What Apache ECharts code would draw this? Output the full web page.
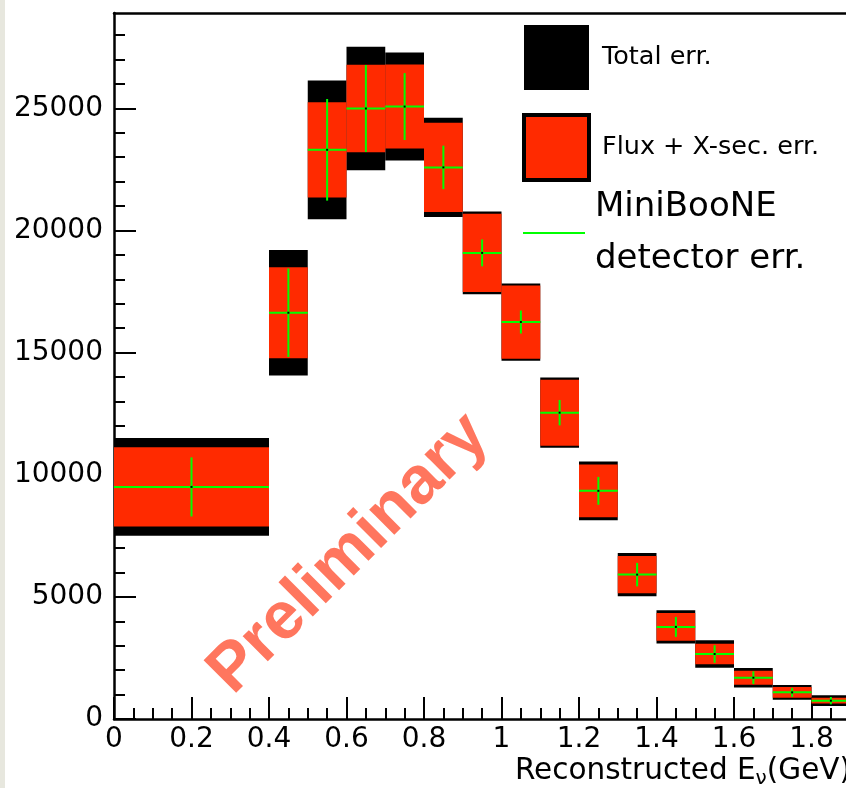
<!DOCTYPE html>
<html>
<head>
<meta charset="utf-8">
<script src="https://cdn.jsdelivr.net/npm/echarts@6/dist/echarts.min.js"></script>
<style>
html, body { margin: 0; padding: 0; background: #ffffff; }
#chart { width: 846px; height: 788px; }
</style>
</head>
<body>
<div id="chart"></div>
<script>
// ---- Data ----
const binEdges = [0, 0.4, 0.5, 0.6, 0.7, 0.8, 0.9, 1.0, 1.1, 1.2, 1.3, 1.4, 1.5, 1.6, 1.7, 1.8, 1.9];
const events   = [9500, 16630, 23300, 24990, 25070, 22580, 19080, 16250, 12540, 9340, 5910, 3770, 2660, 1690, 1090, 750];
const totalErr = [2000, 2570, 2840, 2530, 2210, 2030, 1690, 1580, 1440, 1200, 890, 680, 560, 400, 300, 220];
const fluxErr  = [1620, 1860, 1950, 1790, 1720, 1830, 1600, 1500, 1350, 1080, 760, 570, 420, 290, 225, 120];
const detErr   = [1210, 1810, 2080, 1780, 1370, 890, 550, 470, 520, 570, 480, 410, 360, 260, 185, 150];

const yMajorTicks = [0, 5000, 10000, 15000, 20000, 25000];
const yMinorTicks = [1000, 2000, 3000, 4000, 6000, 7000, 8000, 9000, 11000, 12000, 13000, 14000,
                     16000, 17000, 18000, 19000, 21000, 22000, 23000, 24000, 26000, 27000, 28000];

const seriesNames = ['Total err.', 'Flux + X-sec. err.', 'MiniBooNE detector err.'];

function rows(err) {
  return events.map((v, i) => [binEdges[i], binEdges[i + 1], v, err[i]]);
}

function boxRenderer(color) {
  return function (params, api) {
    const lo = api.value(0), hi = api.value(1), c = api.value(2), e = api.value(3);
    const p1 = api.coord([lo, c + e]);
    const p2 = api.coord([hi, c - e]);
    return {
      type: 'rect',
      shape: { x: p1[0], y: p1[1], width: p2[0] - p1[0], height: p2[1] - p1[1] },
      style: { fill: color }
    };
  };
}

function crossRenderer(params, api) {
  const lo = api.value(0), hi = api.value(1), c = api.value(2), e = api.value(3);
  const mid = (lo + hi) / 2;
  const pl = api.coord([lo, c]);
  const pr = api.coord([hi, c]);
  const pt = api.coord([mid, c + e]);
  const pb = api.coord([mid, c - e]);
  return {
    type: 'group',
    children: [
      { type: 'line', shape: { x1: pl[0], y1: pl[1], x2: pr[0], y2: pr[1] }, style: { stroke: '#00ff00', lineWidth: 2 } },
      { type: 'line', shape: { x1: pt[0], y1: pt[1], x2: pb[0], y2: pb[1] }, style: { stroke: '#00ff00', lineWidth: 2 } },
      { type: 'rect', shape: { x: pt[0] - 1, y: pl[1] - 1, width: 2, height: 2 }, style: { fill: '#000000' } }
    ]
  };
}

const FONT = 'DejaVu Sans';
const fmt = function (v) { return String(v); };
const chart = echarts.init(document.getElementById('chart'), null, { renderer: 'canvas' });

chart.setOption({
  animation: false,
  backgroundColor: '#ffffff',
  textStyle: { fontFamily: FONT, color: '#000' },
  grid: { left: 114, top: 13, right: -43, bottom: 69, containLabel: false, outerBoundsMode: 'none' },
  xAxis: [
    {
      type: 'value', min: 0, max: 2, interval: 0.2, position: 'bottom',
      axisLine: { show: true, onZero: false, lineStyle: { color: '#000', width: 2.5 } },
      axisTick: { show: true, inside: true, length: 22, lineStyle: { color: '#000', width: 2 } },
      minorTick: { show: true, splitNumber: 4, length: 11, lineStyle: { color: '#000', width: 2 } },
      splitLine: { show: false }, minorSplitLine: { show: false },
      axisLabel: { show: true, margin: 7, fontFamily: FONT, fontSize: 28, color: '#000', formatter: fmt },
      name: 'Reconstructed E{sub|ν}(GeV)',
      nameLocation: 'end', nameGap: -38, nameMoveOverlap: false,
      nameTextStyle: {
        fontFamily: FONT, fontSize: 29.5, color: '#000', align: 'right', verticalAlign: 'top',
        padding: [34, 0, 0, 0],
        rich: { sub: { fontFamily: FONT, fontSize: 20, color: '#000', padding: [16, 0, 0, 0] } }
      }
    },
    {
      type: 'value', min: 0, max: 2, position: 'top',
      axisLine: { show: true, onZero: false, lineStyle: { color: '#000', width: 2.5 } },
      axisTick: { show: false }, axisLabel: { show: false }, splitLine: { show: false }
    }
  ],
  yAxis: [
    {
      type: 'value', min: 0, max: 28900, interval: 5000, position: 'left',
      axisLine: { show: true, onZero: false, lineStyle: { color: '#000', width: 2.5 } },
      axisTick: { show: true, inside: true, length: 22, customValues: yMajorTicks, lineStyle: { color: '#000', width: 2 } },
      axisLabel: { show: true, margin: 11, customValues: yMajorTicks, fontFamily: FONT, fontSize: 28, color: '#000', formatter: fmt },
      splitLine: { show: false }
    },
    {
      type: 'value', min: 0, max: 28900, position: 'left', offset: 0,
      axisLine: { show: false },
      axisTick: { show: true, inside: true, length: 11, customValues: yMinorTicks, lineStyle: { color: '#000', width: 2 } },
      axisLabel: { show: false }, splitLine: { show: false }
    }
  ],
  legend: [
    {
      left: 522, top: 25, orient: 'vertical', padding: 0, selectedMode: false,
      itemWidth: 65, itemHeight: 65, itemGap: 23,
      textStyle: { fontFamily: FONT, fontSize: 25.5, color: '#000', padding: [0, 0, 0, 8] },
      data: [
        { name: seriesNames[0], icon: 'rect', itemStyle: { color: '#000000', borderWidth: 0 } },
        { name: seriesNames[1], icon: 'rect', itemStyle: { color: '#ff2a00', borderColor: '#000000', borderWidth: 4 } }
      ]
    },
    {
      left: 523, top: 171, orient: 'vertical', padding: 0, selectedMode: false,
      itemWidth: 62, itemHeight: 2,
      formatter: function () { return 'MiniBooNE\ndetector err.'; },
      textStyle: { fontFamily: FONT, fontSize: 34, lineHeight: 52, color: '#000', padding: [20, 0, 0, 5] },
      data: [ { name: seriesNames[2], icon: 'rect', itemStyle: { color: '#00ff00', borderWidth: 0 } } ]
    }
  ],
  graphic: [
    { type: 'rect', left: 0, top: 0, shape: { width: 5, height: 788 }, style: { fill: '#e7e7de' }, silent: true },
    {
      type: 'text', x: 349, y: 554, rotation: Math.PI / 4, silent: true,
      style: { text: 'Preliminary', fontFamily: 'Liberation Sans', fontWeight: 'bold', fontSize: 67,
               fill: '#ff765e', align: 'center', verticalAlign: 'middle' }
    }
  ],
  series: [
    {
      name: seriesNames[0], type: 'custom', renderItem: boxRenderer('#000000'),
      encode: { x: [0, 1], y: [2] }, data: rows(totalErr), z: 2, itemStyle: { color: '#000000' }
    },
    {
      name: seriesNames[1], type: 'custom', renderItem: boxRenderer('#ff2a00'),
      encode: { x: [0, 1], y: [2] }, data: rows(fluxErr), z: 3, itemStyle: { color: '#ff2a00' }
    },
    {
      name: seriesNames[2], type: 'custom', renderItem: crossRenderer,
      encode: { x: [0, 1], y: [2] }, data: rows(detErr), z: 4, itemStyle: { color: '#00ff00' }
    }
  ]
});
</script>
</body>
</html>
